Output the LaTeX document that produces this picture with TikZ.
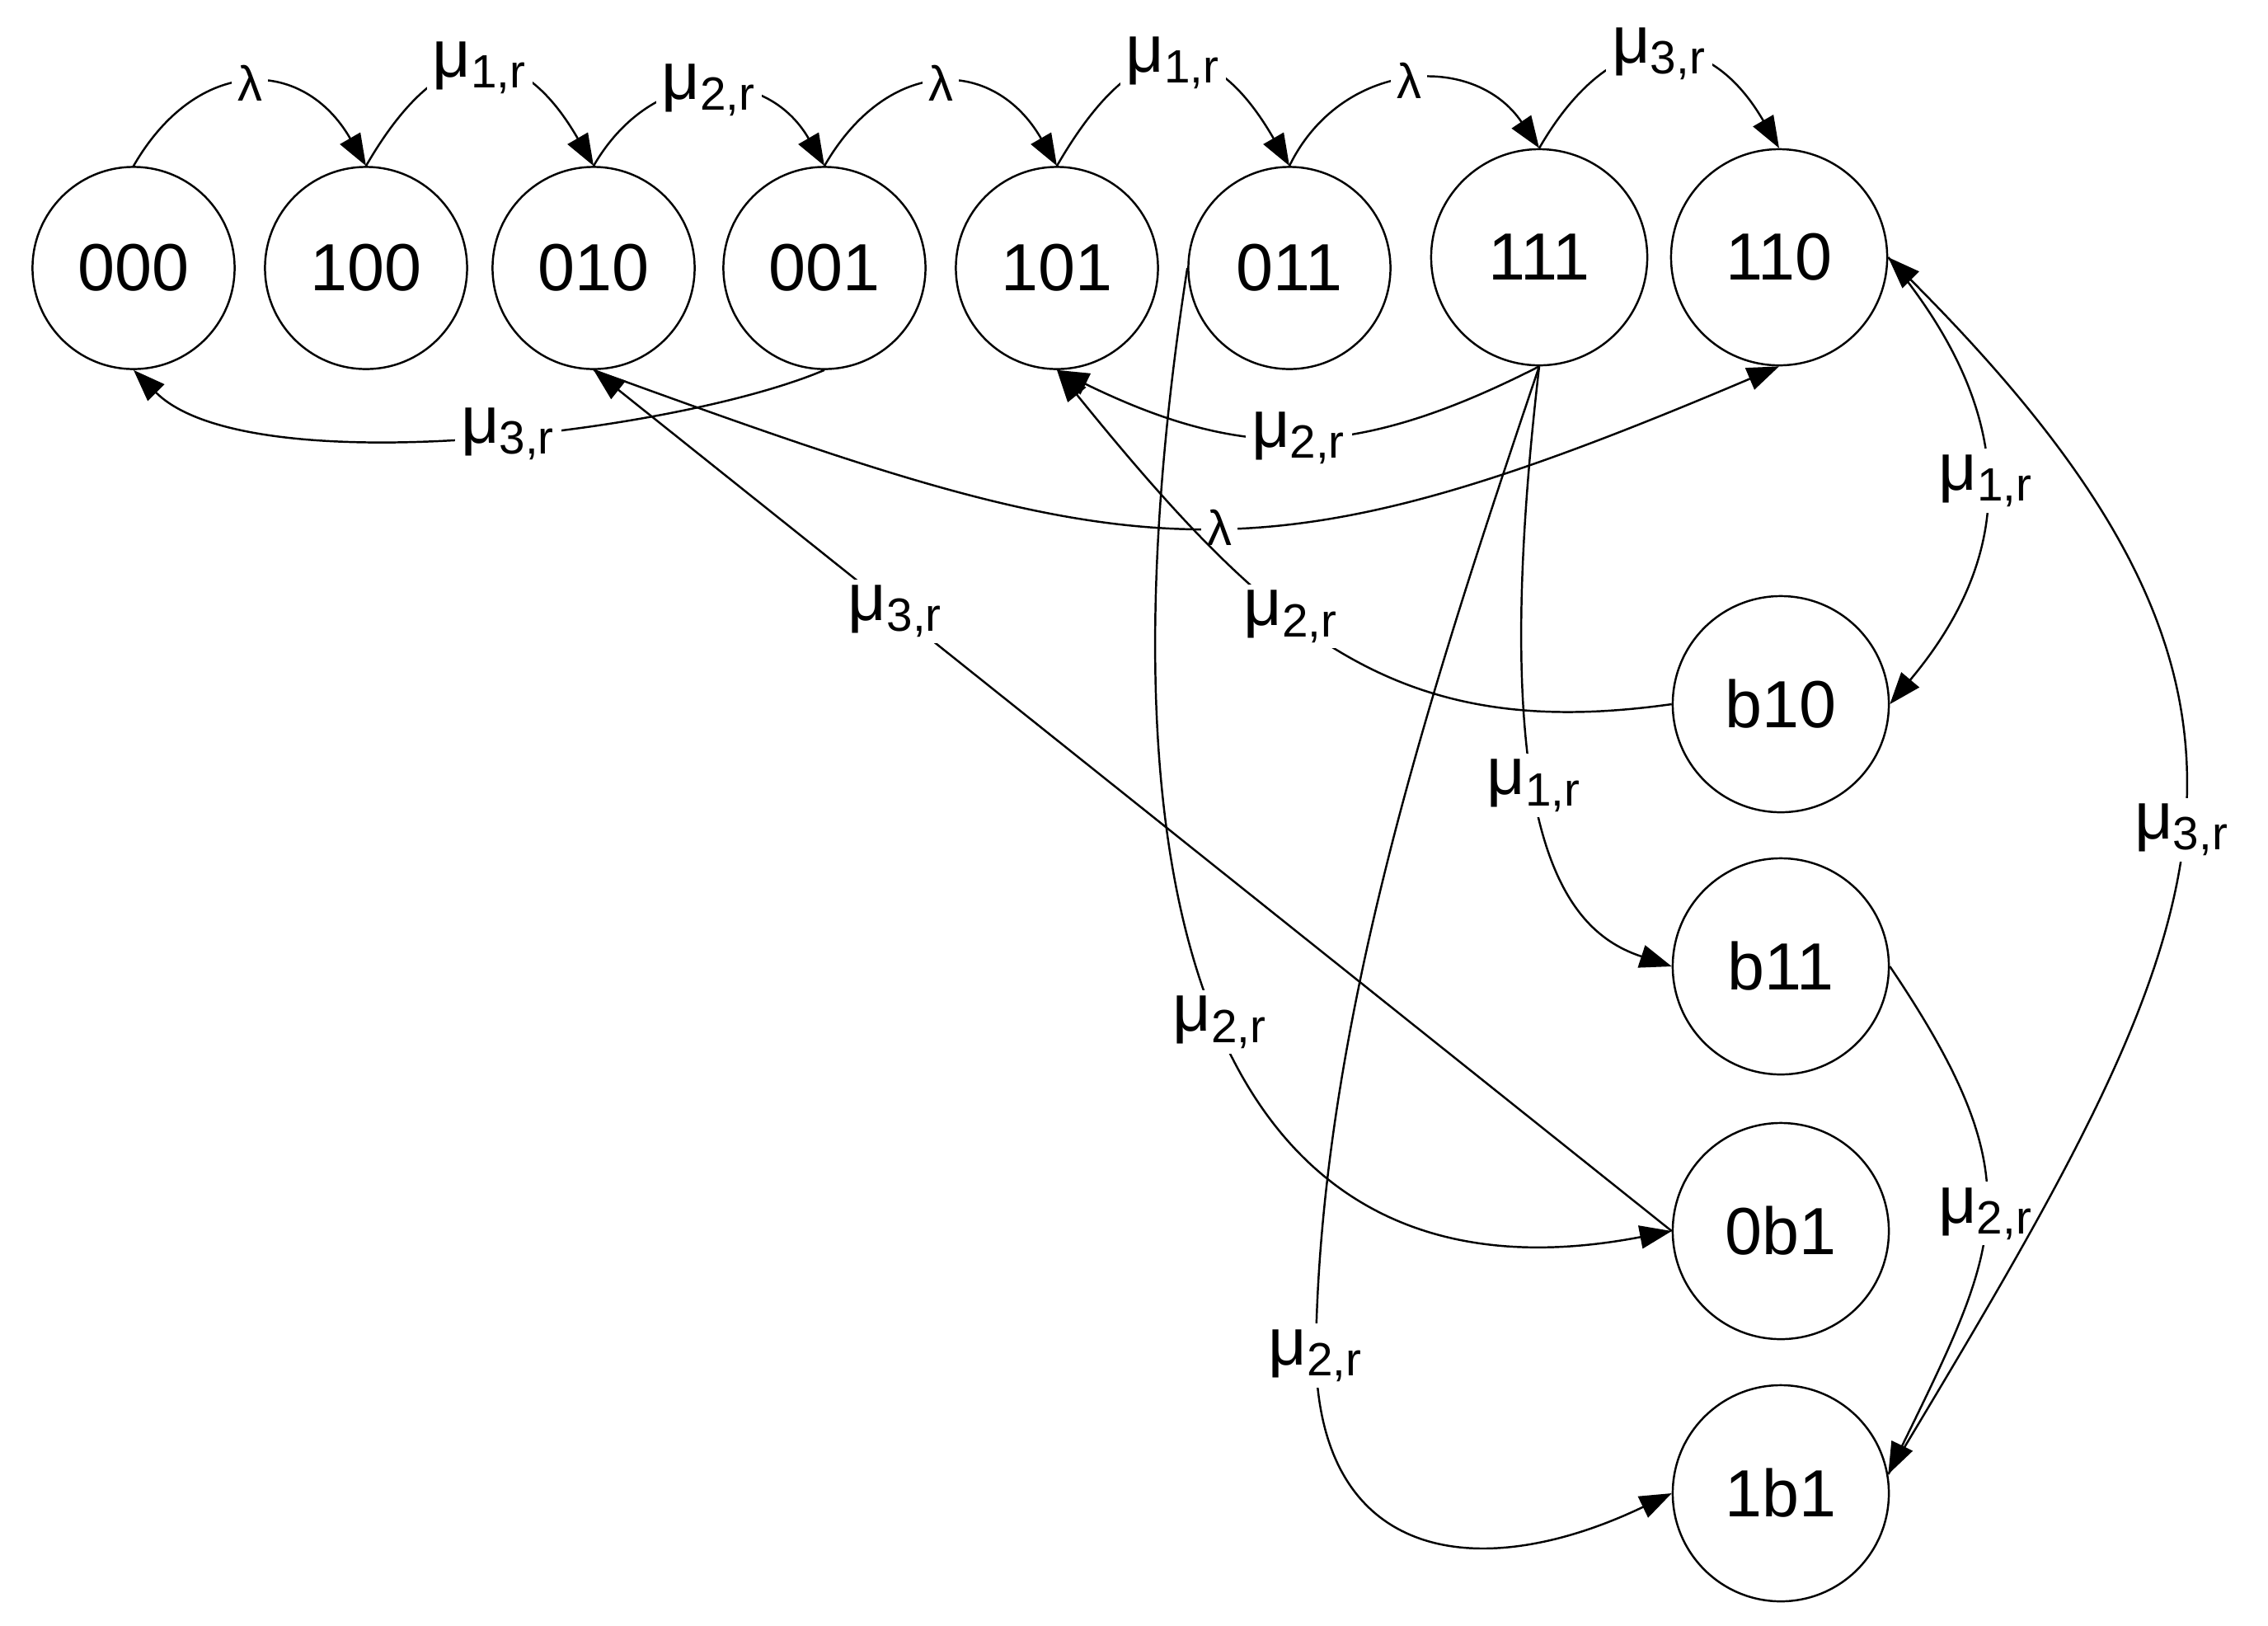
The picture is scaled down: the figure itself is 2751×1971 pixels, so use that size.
\documentclass[tikz,border=0pt]{standalone}
\usepackage{fontspec}
\setmainfont{Liberation Sans}
\usetikzlibrary{arrows.meta}
\tikzset{>={Triangle[length=11pt,width=8pt]}}
\newcommand{\mur}[1]{μ\textsubscript{#1,r}}

\begin{document}
\begin{tikzpicture}[x=0.01cm,y=-0.01cm,line width=0.7pt,
    st/.style={circle,draw,minimum size=2.45cm,inner sep=0pt,font=\fontsize{23}{27}\selectfont},
    bigst/.style={st,minimum size=2.62cm},
    rate/.style={fill=white,inner sep=2pt,font=\fontsize{23}{27}\selectfont},
    lam/.style={fill=white,inner sep=2pt,font=\fontsize{17}{20}\selectfont}]
\useasboundingbox (0,0) rectangle (2751,1971);
% states
\node[st] (s000) at (162,325) {000};
\node[st] (s100) at (444,325) {100};
\node[st] (s010) at (720,325) {010};
\node[st] (s001) at (1000,325) {001};
\node[st] (s101) at (1282,325) {101};
\node[st] (s011) at (1564,325) {011};
\node[bigst] (s111) at (1867,312) {111};
\node[bigst] (s110) at (2158,312) {110};
\node[bigst] (sb10) at (2160,854) {b10};
\node[bigst] (sb11) at (2160,1172) {b11};
\node[bigst] (s0b1) at (2160,1493) {0b1};
\node[bigst] (s1b1) at (2160,1811) {1b1};
% along the top
\draw[->] (s000.north) to[bend left=60,looseness=1.4] node[lam] {λ} (s100.north);
\draw[->] (s100.north) to[bend left=60,looseness=1.7] node[rate] {\mur{1}} (s010.north);
\draw[->] (s010.north) to[bend left=60,looseness=1.3] node[rate] {\mur{2}} (s001.north);
\draw[->] (s001.north) to[bend left=60,looseness=1.4] node[lam] {λ} (s101.north);
\draw[->] (s101.north) to[bend left=60,looseness=1.75] node[rate] {\mur{1}} (s011.north);
\draw[->] (s011.north) to[bend left=60,looseness=1.2] node[lam] {λ} (s111.north);
\draw[->] (s111.north) to[bend left=60,looseness=1.55] node[rate] {\mur{3}} (s110.north);
% under the row
\draw[->] (s001.south) to[out=-157,in=-45,looseness=0.6] node[rate,pos=0.45] {\mur{3}} (s000.south);
\draw[->] (s111.south) to[out=-153,in=-26,looseness=1.1] node[rate] {\mur{2}} (s101.south);
\draw[->] (s010.south) to[out=-20,in=-157,looseness=1.25] node[lam,pos=0.53] {λ} (s110.south);
\draw[->] (s0b1.west) -- node[rate,pos=0.72] {\mur{3}} (s010.south);
\draw[->] (sb10.west) .. controls (1700,900) and (1550,780) .. (s101.south) node[rate,pos=0.6] {\mur{2}};
\draw[->] (s011.west) .. controls (1320,1100) and (1470,1600) .. (s0b1.west) node[rate,pos=0.5] {\mur{2}};
\draw[->] (s111.south) .. controls (1739,824) and (1600,1244) .. (1596,1644) node[rate] {\mur{2}}
    .. controls (1600,1900) and (1800,1920) .. (s1b1.west);
\draw[->] (s111.south) .. controls (1800,1020) and (1900,1130) .. (sb11.west) node[rate,pos=0.42] {\mur{1}};
% right column
\draw[->] (s110.east) to[out=-50,in=50,looseness=1.15] node[rate] {\mur{1}} (sb10.east);
\draw[->] (sb11.east) to[out=-56,in=64,looseness=1.3] node[rate] {\mur{2}} (s1b1.10);
\draw[->] (s1b1.10) to[out=59,in=-45,looseness=1.35] node[rate] {\mur{3}} (s110.east);
\end{tikzpicture}
\end{document}
